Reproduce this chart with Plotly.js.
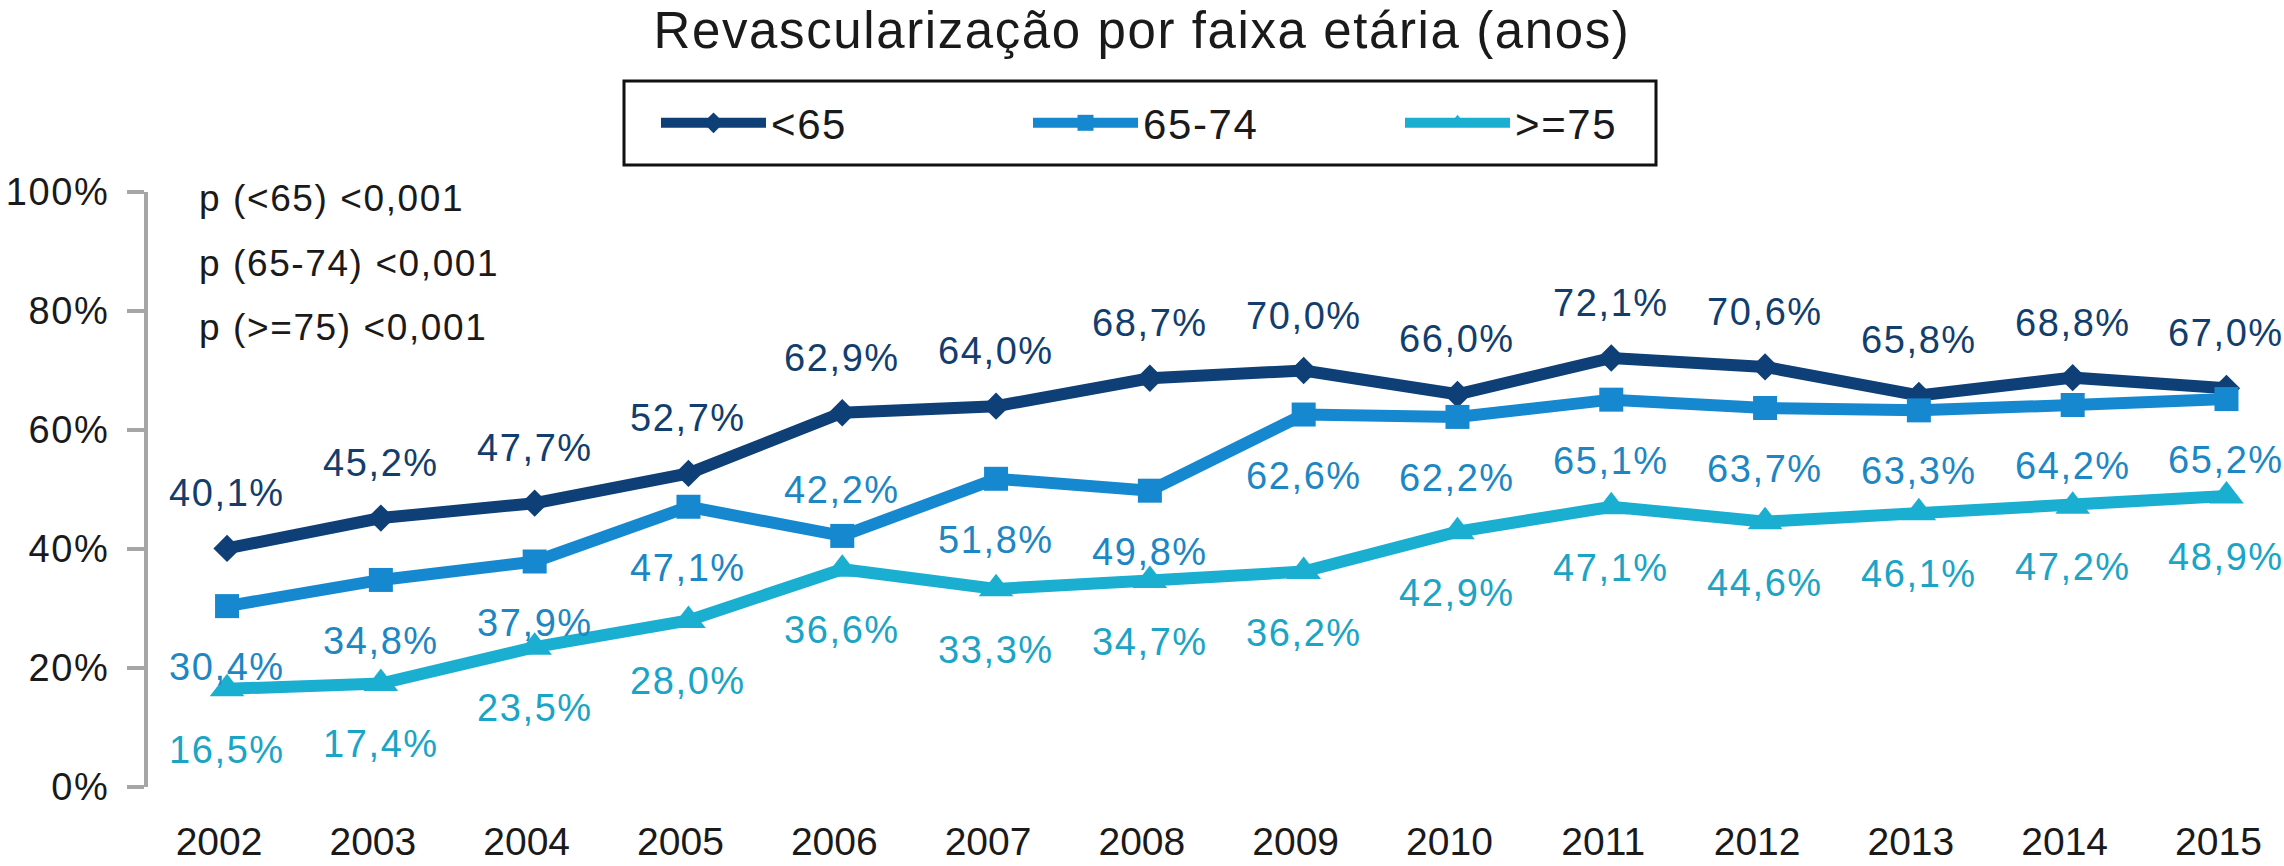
<!DOCTYPE html>
<html>
<head>
<meta charset="utf-8">
<script src="https://cdn.plot.ly/plotly-3.0.1.min.js"></script>
<style>
  html, body { margin: 0; padding: 0; background: #fff; }
  #chart { width: 2284px; height: 866px; }
  /* source figure text is set wide — mimic with a little tracking */
  .ytick text, .annotation-text, .legendtext, .gtitle { letter-spacing: 1.6px; }
</style>
</head>
<body>
<div id="chart"></div>
<script>
// Revascularização por faixa etária (anos)

const years = ['2002', '2003', '2004', '2005', '2006', '2007', '2008',
               '2009', '2010', '2011', '2012', '2013', '2014', '2015'];

const seriesNames = ['<65', '65-74', '>=75'];

const under65   = [40.1, 45.2, 47.7, 52.7, 62.9, 64.0, 68.7, 70.0, 66.0, 72.1, 70.6, 65.8, 68.8, 67.0];
const age65to74 = [30.4, 34.8, 37.9, 47.1, 42.2, 51.8, 49.8, 62.6, 62.2, 65.1, 63.7, 63.3, 64.2, 65.2];
const age75plus = [16.5, 17.4, 23.5, 28.0, 36.6, 33.3, 34.7, 36.2, 42.9, 47.1, 44.6, 46.1, 47.2, 48.9];

// label side per point: 'a' above the marker, 'b' below
const sideUnder65   = ['a','a','a','a','a','a','a','a','a','a','a','a','a','a'];
const side65to74    = ['b','b','b','b','a','b','b','b','b','b','b','b','b','b'];
const side75plus    = ['b','b','b','b','b','b','b','b','b','b','b','b','b','b'];

const pValueTexts = ['p (<65) <0,001', 'p (65-74) <0,001', 'p (>=75) <0,001'];

const yTickVals = [0, 20, 40, 60, 80, 100];
const yTickText = ['0%', '20%', '40%', '60%', '80%', '100%'];

// ── geometry helpers (pixel -> paper) ───────────────────────────────────
const W = 2284, H = 866;
const M = { l: 148, r: 0, t: 192, b: 79, pad: 0 };
const plotW = W - M.l - M.r;
const plotH = H - M.t - M.b;
const pxX = px => (px - M.l) / plotW;
const pxY = py => (H - M.b - py) / plotH;

const FONT = '"Liberation Sans", Arial, Helvetica, sans-serif';

const styles = [
  { line: '#0e3f76', text: '#123e6d', symbol: 'diamond',     size: 21, up: -55, down: 60 },
  { line: '#1688cf', text: '#1d87c4', symbol: 'square',      size: 24, up: -46, down: 61 },
  { line: '#1aaed1', text: '#1aa4c6', symbol: 'triangle-up', size: 30, up: -55, down: 61 },
];
const seriesValues = [under65, age65to74, age75plus];
const seriesSides  = [sideUnder65, side65to74, side75plus];

const fmtPct = v => v.toFixed(1).replace('.', ',') + '%';

const traces = seriesValues.map((vals, s) => ({
  type: 'scatter',
  mode: 'lines+markers',
  name: seriesNames[s],
  x: years,
  y: vals,
  line: { color: styles[s].line, width: 12 },
  marker: { symbol: styles[s].symbol, size: styles[s].size, color: styles[s].line },
  cliponaxis: false,
  hoverinfo: 'skip',
}));

const annotations = [];
seriesValues.forEach((vals, s) => {
  vals.forEach((v, i) => {
    annotations.push({
      // category index, so '2002' is not read as a position number
      x: i, y: v, xref: 'x', yref: 'y',
      text: fmtPct(v),
      showarrow: false,
      xanchor: 'center', yanchor: 'middle',
      yshift: -(seriesSides[s][i] === 'a' ? styles[s].up : styles[s].down),
      font: { family: FONT, size: 38, color: styles[s].text },
    });
  });
});

// p-value notes, top-left of the plot
const pNoteY = [199, 263, 327];
pValueTexts.forEach((t, k) => {
  annotations.push({
    x: pxX(197), y: pxY(pNoteY[k]), xref: 'paper', yref: 'paper',
    text: t, showarrow: false, xanchor: 'left', yanchor: 'middle',
    font: { family: FONT, size: 37, color: '#1a1a1a' },
  });
});

const layout = {
  width: W,
  height: H,
  margin: M,
  paper_bgcolor: '#fff',
  plot_bgcolor: '#fff',
  font: { family: FONT, color: '#1a1a1a' },
  title: {
    text: 'Revascularização por faixa etária (anos)',
    font: { family: FONT, size: 51, color: '#1a1a1a' },
    x: 0.5, xref: 'container', xanchor: 'center',
    y: 1 - 30 / H, yref: 'container', yanchor: 'middle',
  },
  showlegend: true,
  legend: {
    orientation: 'h',
    x: 656 / W, xref: 'container', xanchor: 'left',
    y: 1 - 123 / H, yref: 'container', yanchor: 'middle',
    font: { family: FONT, size: 42, color: '#1a1a1a' },
    itemwidth: 105,
    entrywidth: 252,
    bgcolor: 'rgba(0,0,0,0)',
    borderwidth: 0,
  },
  xaxis: {
    type: 'category',
    range: [-0.514, 13.374],
    showline: false,
    showgrid: false,
    zeroline: false,
    ticks: '',
    tickfont: { family: FONT, size: 39, color: '#1a1a1a' },
    ticklabelstandoff: 28,
    ticklabelshift: -8,
    fixedrange: true,
  },
  yaxis: {
    range: [0, 100],
    tickvals: yTickVals,
    ticktext: yTickText,
    showline: true,
    linecolor: '#a6a6a6',
    linewidth: 4,
    ticks: 'outside',
    ticklen: 17,
    tickwidth: 4,
    tickcolor: '#a6a6a6',
    tickfont: { family: FONT, size: 38, color: '#1a1a1a' },
    ticklabelstandoff: 10,
    showgrid: false,
    zeroline: false,
    fixedrange: true,
  },
  shapes: [{
    // legend frame
    type: 'rect', xref: 'paper', yref: 'paper',
    x0: pxX(624), x1: pxX(1656), y0: pxY(165), y1: pxY(81),
    line: { color: '#111', width: 3 },
    fillcolor: 'rgba(0,0,0,0)',
    layer: 'below',
  }],
  annotations: annotations,
};

Plotly.newPlot('chart', traces, layout, { displayModeBar: false, staticPlot: true });
</script>
</body>
</html>
